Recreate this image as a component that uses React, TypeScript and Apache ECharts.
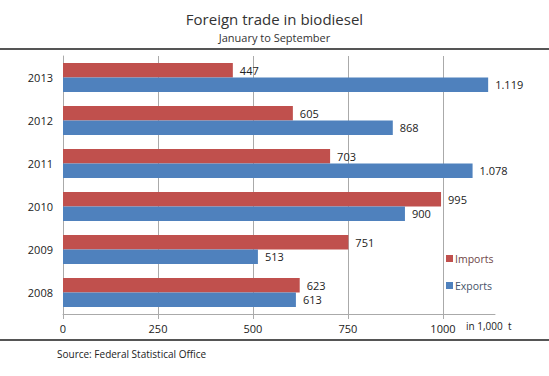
import React, { useEffect, useRef } from "react";
import * as echarts from "echarts";

const years = ["2008", "2009", "2010", "2011", "2012", "2013"];
const imports = [623, 751, 995, 703, 605, 447];
const exports_ = [613, 513, 900, 1078, 868, 1119];
const xTicks = [0, 250, 500, 750, 1000];

const fmt = (v: number) => {
  const s = String(Math.round(v));
  return s.replace(/\B(?=(\d{3})+(?!\d))/g, ".");
};

export default function App() {
  const ref = useRef<HTMLDivElement>(null);
  useEffect(() => {
    document.body.style.margin = "0";
    const chart = echarts.init(ref.current!, undefined, { renderer: "svg" });
    const font = "'Open Sans', sans-serif";
    chart.setOption({
      animation: false,
      textStyle: { fontFamily: font },
      title: [
        {
          text: "Foreign trade in biodiesel",
          left: "center",
          top: 6,
          textStyle: { fontSize: 15, fontWeight: "normal", color: "#333", fontFamily: font },
        },
        {
          text: "January to September",
          left: "center",
          top: 27,
          textStyle: { fontSize: 11, fontWeight: "normal", color: "#333", fontFamily: font },
        },
      ],
      legend: {
        orient: "vertical",
        left: 441,
        top: 248,
        itemWidth: 7,
        itemHeight: 7,
        itemGap: 16,
        icon: "rect",
        data: [
          { name: "Imports", textStyle: { color: "#6e4646" } },
          { name: "Exports", textStyle: { color: "#45536a" } },
        ],
        textStyle: { fontSize: 10.5, fontFamily: font, padding: [0, 0, 0, -3] },
      },
      grid: { left: 63, right: 54, top: 56, bottom: 62 },
      xAxis: {
        type: "value",
        min: 0,
        max: 1137,
        interval: 250,
        axisLine: { show: true, lineStyle: { color: "#aaa", width: 1 } },
        axisTick: { show: true, length: 5, lineStyle: { color: "#aaa" } },
        splitLine: { show: true, showMaxLine: false, lineStyle: { color: "#aaa", width: 1 } },
        axisLabel: {
          margin: 9,
          fontSize: 11,
          color: "#222",
          fontFamily: font,
          showMaxLabel: false,
          formatter: (v: number) => (xTicks.includes(v) ? String(v) : ""),
        },
      },
      yAxis: {
        type: "category",
        data: years,
        axisLine: { show: true, lineStyle: { color: "#aaa" } },
        axisTick: { show: false },
        axisLabel: { fontSize: 11, color: "#222", margin: 10, fontFamily: font },
      },
      graphic: [
        { type: "rect", shape: { x: 0, y: 48, width: 549, height: 2 }, style: { fill: "#555" } },
        { type: "rect", shape: { x: 0, y: 339, width: 549, height: 2 }, style: { fill: "#555" } },
        {
          type: "text",
          x: 466,
          y: 321,
          style: { text: "in 1,000  t", fontSize: 10, fill: "#222", fontFamily: font },
        },
        {
          type: "text",
          x: 57,
          y: 349,
          style: { text: "Source: Federal Statistical Office", fontSize: 10, fill: "#222", fontFamily: font },
        },
      ],
      series: [
        {
          name: "Imports",
          type: "bar",
          data: imports,
          barGap: "0%",
          barCategoryGap: "33%",
          itemStyle: { color: "#c0504d" },
          label: {
            show: true,
            position: "right",
            distance: 7,
            fontSize: 11,
            color: "#222",
            fontFamily: font,
            formatter: (p: any) => fmt(p.value),
          },
        },
        {
          name: "Exports",
          type: "bar",
          data: exports_,
          barGap: "0%",
          barCategoryGap: "33%",
          itemStyle: { color: "#4f81bd" },
          label: {
            show: true,
            position: "right",
            distance: 7,
            fontSize: 11,
            color: "#222",
            fontFamily: font,
            formatter: (p: any) => fmt(p.value),
          },
        },
      ],
    });
    return () => chart.dispose();
  }, []);
  return <div ref={ref} style={{ position: "absolute", left: 0, top: 0, width: 549, height: 376 }} />;
}
